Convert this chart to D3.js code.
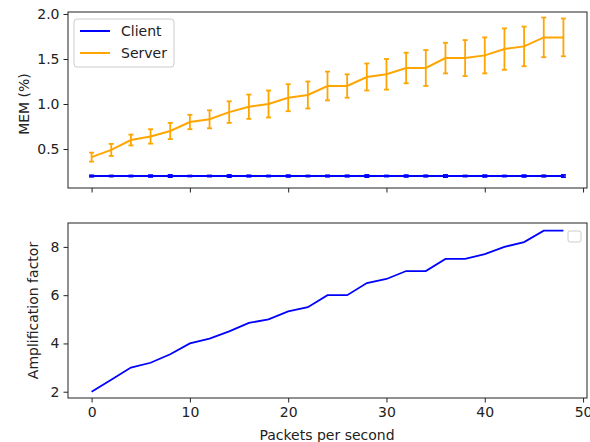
<!DOCTYPE html>
<html>
<head>
<meta charset="utf-8">
<script src="https://cdn.jsdelivr.net/npm/d3@7"></script>
<style>
  body { margin: 0; background: #fff; }
  text { font-family: "DejaVu Sans", sans-serif; fill: #222; }
</style>
</head>
<body>
<div id="chart"></div>
<script>
    var packets = [0, 2, 4, 6, 8, 10, 12, 14, 16, 18, 20, 22, 24, 26, 28, 30, 32, 34, 36, 38, 40, 42, 44, 46, 48];
    var clientMem = [0.2, 0.2, 0.2, 0.2, 0.2, 0.2, 0.2, 0.2, 0.2, 0.2, 0.2, 0.2, 0.2, 0.2, 0.2, 0.2, 0.2, 0.2, 0.2, 0.2, 0.2, 0.2, 0.2, 0.2, 0.2];
    var clientErr = [0.008, 0.006, 0.006, 0.01, 0.012, 0.005, 0.006, 0.012, 0.008, 0.006, 0.01, 0.006, 0.008, 0.008, 0.012, 0.006, 0.01, 0.008, 0.012, 0.006, 0.01, 0.006, 0.01, 0.008, 0.012];
    var serverMem = [0.41, 0.49, 0.60, 0.64, 0.70, 0.80, 0.83, 0.91, 0.97, 1.00, 1.07, 1.10, 1.20, 1.20, 1.30, 1.33, 1.40, 1.40, 1.51, 1.51, 1.54, 1.61, 1.64, 1.74, 1.74];
    var serverErr = [0.05, 0.067, 0.06, 0.08, 0.09, 0.08, 0.10, 0.12, 0.135, 0.15, 0.15, 0.15, 0.16, 0.13, 0.15, 0.17, 0.17, 0.20, 0.17, 0.20, 0.20, 0.23, 0.22, 0.22, 0.21];
    var ampFactor = [2.0, 2.5, 3.0, 3.2, 3.55, 4.0, 4.2, 4.5, 4.85, 5.0, 5.33, 5.5, 6.0, 6.0, 6.5, 6.67, 7.0, 7.0, 7.5, 7.5, 7.7, 8.0, 8.2, 8.67, 8.67];

    var xTicks = [0, 10, 20, 30, 40, 50];
    var memTicks = [0.5, 1.0, 1.5, 2.0];
    var ampTicks = [2, 4, 6, 8];

    var width = 590,
    height = 442;

    var left = 68, right = 587;
    var top1 = 12, bottom1 = 188;
    var top2 = 223, bottom2 = 398;
    var fs = "14px";

    var svg = d3.select('#chart').append("svg")
      .attr("width", width)
      .attr("height", height);

    var x = d3.scaleLinear().domain([-2.4, 50.4]).range([left, right]);
    var yMem = d3.scaleLinear().domain([0.067, 2.022]).range([bottom1, top1]);
    var yAmp = d3.scaleLinear().domain([1.74, 8.99]).range([bottom2, top2]);

    function styleAxis(g, showLabels) {
      g.select(".domain").remove();
      g.selectAll(".tick line").attr("stroke", "#222").attr("stroke-width", 1);
      g.selectAll(".tick text").style("font-size", fs);
      if (!showLabels) g.selectAll(".tick text").remove();
    }

    // top panel
    svg.append("g")
      .attr("transform", "translate(0," + bottom1 + ")")
      .call(d3.axisBottom(x).tickValues(xTicks).tickSize(4.5).tickPadding(4))
      .call(styleAxis, false);

    svg.append("g")
      .attr("transform", "translate(" + left + ",0)")
      .call(d3.axisLeft(yMem).tickValues(memTicks).tickFormat(d3.format(".1f")).tickSize(4.5).tickPadding(4))
      .call(styleAxis, true);

    var series = [
      {name: 'Client', values: clientMem, err: clientErr, color: '#0000ff'},
      {name: 'Server', values: serverMem, err: serverErr, color: '#ffa500'}
    ];

    var memLine = d3.line()
      .x(function(d, i) { return x(packets[i]); })
      .y(function(d) { return yMem(d); });

    series.forEach(function(s) {
      var g = svg.append("g");
      g.append("path")
        .attr("d", memLine(s.values))
        .attr("fill", "none")
        .attr("stroke", s.color)
        .attr("stroke-width", 2);

      var bars = g.selectAll(".err")
        .data(s.values)
        .enter().append("g");

      bars.append("line")
        .attr("x1", function(d, i) { return x(packets[i]); })
        .attr("x2", function(d, i) { return x(packets[i]); })
        .attr("y1", function(d, i) { return yMem(d - s.err[i]); })
        .attr("y2", function(d, i) { return yMem(d + s.err[i]); })
        .attr("stroke", s.color)
        .attr("stroke-width", 1.8);

      [-1, 1].forEach(function(sign) {
        bars.append("line")
          .attr("x1", function(d, i) { return x(packets[i]) - 2.5; })
          .attr("x2", function(d, i) { return x(packets[i]) + 2.5; })
          .attr("y1", function(d, i) { return yMem(d + sign * s.err[i]); })
          .attr("y2", function(d, i) { return yMem(d + sign * s.err[i]); })
          .attr("stroke", s.color)
          .attr("stroke-width", 1.8);
      });
    });

    svg.append("rect")
      .attr("x", left).attr("y", top1)
      .attr("width", right - left).attr("height", bottom1 - top1)
      .attr("fill", "none").attr("stroke", "#222").attr("stroke-width", 1);

    // legend
    var legend = svg.append("g");
    legend.append("rect")
      .attr("x", 74).attr("y", 19).attr("width", 100).attr("height", 48).attr("rx", 3)
      .attr("fill", "#fff").attr("fill-opacity", 0.8)
      .attr("stroke", "#ccc");

    var items = legend.selectAll(".item")
      .data(series)
      .enter().append("g")
      .attr("transform", function(d, i) { return "translate(80," + (31 + i * 22) + ")"; });

    items.append("line")
      .attr("x1", 0).attr("x2", 30)
      .attr("stroke", function(d) { return d.color; })
      .attr("stroke-width", 2);

    items.append("text")
      .attr("x", 41).attr("y", 5)
      .style("font-size", fs)
      .text(function(d) { return d.name; });

    svg.append("text")
      .attr("transform", "translate(29," + ((top1 + bottom1) / 2 + 4) + ") rotate(-90)")
      .attr("text-anchor", "middle")
      .style("font-size", fs)
      .text("MEM (%)");

    // bottom panel
    svg.append("g")
      .attr("transform", "translate(0," + bottom2 + ")")
      .call(d3.axisBottom(x).tickValues(xTicks).tickSize(4.5).tickPadding(5))
      .call(styleAxis, true);

    svg.append("g")
      .attr("transform", "translate(" + left + ",0)")
      .call(d3.axisLeft(yAmp).tickValues(ampTicks).tickSize(4.5).tickPadding(4))
      .call(styleAxis, true);

    var ampLine = d3.line()
      .x(function(d, i) { return x(packets[i]); })
      .y(function(d) { return yAmp(d); });

    svg.append("path")
      .attr("d", ampLine(ampFactor))
      .attr("fill", "none")
      .attr("stroke", "#0000ff")
      .attr("stroke-width", 1.8);

    svg.append("rect")
      .attr("x", left).attr("y", top2)
      .attr("width", right - left).attr("height", bottom2 - top2)
      .attr("fill", "none").attr("stroke", "#222").attr("stroke-width", 1);

    // empty legend box
    svg.append("rect")
      .attr("x", 568).attr("y", 231).attr("width", 13).attr("height", 11).attr("rx", 2)
      .attr("fill", "#fff").attr("stroke", "#ccc");

    svg.append("text")
      .attr("transform", "translate(38," + ((top2 + bottom2) / 2) + ") rotate(-90)")
      .attr("text-anchor", "middle")
      .style("font-size", fs)
      .text("Amplification factor");

    svg.append("text")
      .attr("x", (left + right) / 2 - 0.5)
      .attr("y", 440)
      .attr("text-anchor", "middle")
      .style("font-size", fs)
      .text("Packets per second");
</script>
</body>
</html>
